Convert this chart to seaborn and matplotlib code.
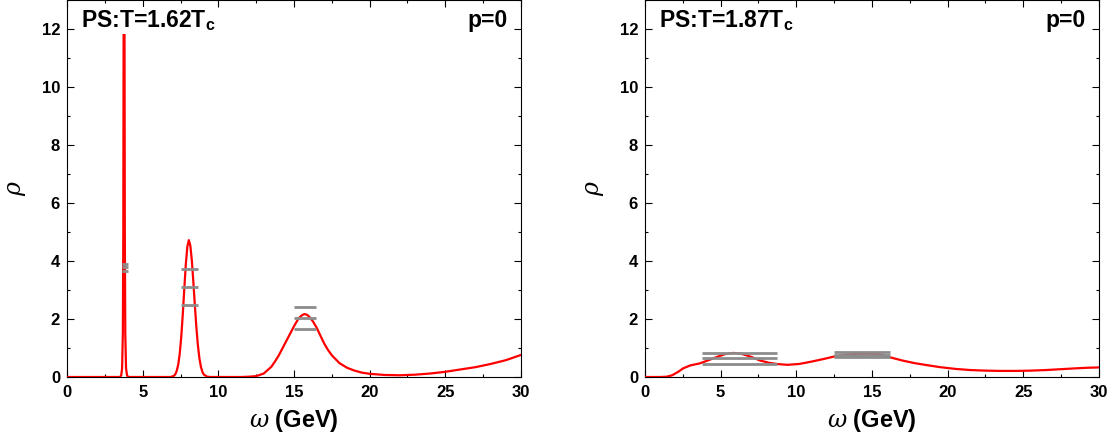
import matplotlib
matplotlib.use("Agg")
import matplotlib.pyplot as plt
import seaborn as sns
import numpy as np
import pandas as pd

# ---------------- data ----------------
left_omega = [0.0, 3.50, 3.58, 3.64, 3.69, 3.72, 3.74, 3.77, 3.80, 3.82, 3.85, 3.90, 3.97, 4.05,
              6.85, 7.05, 7.15, 7.25, 7.35, 7.45, 7.55, 7.65, 7.75, 7.85, 7.95, 8.05,
              8.15, 8.25, 8.35, 8.45, 8.55, 8.65, 8.75, 8.85, 8.95, 9.05, 9.25, 9.45,
              11.5, 12.0, 12.5, 13.0, 13.5, 13.75, 14.0, 14.25, 14.5, 14.75, 15.0, 15.3,
              15.5, 15.68, 15.85, 16.0, 16.25, 16.5, 16.75, 17.0, 17.25,
              17.5, 18.0, 18.5, 19.0, 19.5, 20.0, 21.0, 22.0, 23.0, 24.0, 25.0, 26.0,
              27.0, 28.0, 29.0, 30.0]
left_rho = [0.0, 0.0, 0.05, 0.3, 1.5, 5.0, 12.0, 12.6, 12.0, 5.0, 1.5, 0.3, 0.05, 0.0,
            0.0, 0.036, 0.09, 0.21, 0.43, 0.81, 1.39, 2.16, 3.04, 3.88, 4.49, 4.72,
            4.53, 4.01, 3.27, 2.46, 1.70, 1.09, 0.64, 0.35, 0.17, 0.08, 0.013, 0.0,
            0.0, 0.01, 0.03, 0.12, 0.35, 0.54, 0.75, 1.00, 1.25, 1.50, 1.75, 2.02,
            2.12, 2.17, 2.15, 2.08, 1.92, 1.70, 1.42, 1.15, 0.93,
            0.75, 0.48, 0.32, 0.22, 0.15, 0.11, 0.07, 0.06, 0.08, 0.12, 0.18, 0.26,
            0.34, 0.45, 0.58, 0.76]

right_omega = [0.0, 1.0, 1.43, 1.8, 2.2, 2.53, 3.0, 3.63, 4.2, 4.8, 5.3, 5.84, 6.3, 7.0,
               7.6, 8.2, 8.7, 9.4, 10.2, 11.0, 11.8, 12.45, 13.2, 14.0, 14.87, 15.5,
               16.19, 17.0, 17.8, 18.62, 19.5, 20.5, 21.5, 22.5, 23.46, 24.5, 25.5,
               26.5, 27.5, 28.5, 29.3, 30.0]
right_rho = [0.0, 0.0, 0.01, 0.06, 0.18, 0.30, 0.40, 0.47, 0.58, 0.70, 0.79, 0.83, 0.81, 0.70,
             0.57, 0.49, 0.45, 0.42, 0.45, 0.53, 0.62, 0.70, 0.76, 0.80, 0.81, 0.78,
             0.68, 0.57, 0.48, 0.41, 0.34, 0.28, 0.24, 0.22, 0.21, 0.21, 0.22,
             0.24, 0.27, 0.30, 0.32, 0.33]

# error-bar style horizontal lines: start, end, levels
left_bar_start = [3.63, 7.53, 15.02]
left_bar_end = [4.03, 8.64, 16.43]
left_bar_levels = [[3.90, 3.79, 3.66], [3.72, 3.10, 2.49], [2.40, 2.03, 1.67]]

right_bar_start = [3.75, 12.5]
right_bar_end = [8.7, 16.2]
right_bar_levels = [[0.84, 0.67, 0.46], [0.85, 0.76, 0.68]]

titles = ["PS:T=1.62T", "PS:T=1.87T"]
momentum_label = "p=0"
x_ticks = [0, 5, 10, 15, 20, 25, 30]
y_ticks = [0, 2, 4, 6, 8, 10, 12]

# ---------------- style ----------------
sns.set_theme(style="ticks")
plt.rcParams["font.family"] = ["Liberation Sans", "DejaVu Sans"]
plt.rcParams["text.color"] = "black"
plt.rcParams["axes.labelcolor"] = "black"
plt.rcParams["xtick.color"] = "black"
plt.rcParams["ytick.color"] = "black"
plt.rcParams["mathtext.fontset"] = "custom"
plt.rcParams["mathtext.it"] = "DejaVu Serif:style=italic:weight=normal"
plt.rcParams["mathtext.rm"] = "Liberation Sans:bold"
plt.rcParams["mathtext.bf"] = "Liberation Sans:bold"

fig = plt.figure(figsize=(11.17, 4.46), dpi=100)
ax_l = fig.add_axes([0.06, 0.1547, 0.4064, 0.8453])
ax_r = fig.add_axes([0.5774, 0.1547, 0.4064, 0.8453])

panels = [
    (ax_l, left_omega, left_rho, left_bar_start, left_bar_end, left_bar_levels, titles[0]),
    (ax_r, right_omega, right_rho, right_bar_start, right_bar_end, right_bar_levels, titles[1]),
]

for ax, om, rho, bs, be, bl, title in panels:
    df = pd.DataFrame({"omega": om, "rho": rho})
    sns.lineplot(data=df, x="omega", y="rho", ax=ax, color="red", linewidth=1.6,
                 estimator=None, sort=False, zorder=3)
    for s, e, levels in zip(bs, be, bl):
        ax.hlines(levels, s, e, colors="#8c8c8c", linewidth=2.0, zorder=4)
    ax.set_xlim(0, 30)
    ax.set_ylim(0, 13)
    ax.set_xticks(x_ticks)
    ax.set_yticks(y_ticks)
    ax.set_xticks(np.arange(0, 30.01, 2.5), minor=True)
    ax.set_yticks(np.arange(0, 13.01, 1), minor=True)
    ax.tick_params(which="both", direction="in", top=True, right=True, labelsize=12,
                   color="black", width=0.8)
    ax.tick_params(which="major", length=5)
    ax.tick_params(which="minor", length=2.5)
    ax.tick_params(axis="x", pad=6)
    ax.tick_params(axis="y", pad=5)
    for lab in ax.get_xticklabels() + ax.get_yticklabels():
        lab.set_fontweight("bold")
    for sp in ax.spines.values():
        sp.set_color("black")
        sp.set_linewidth(0.8)
        sp.set_visible(True)
    ax.set_xlabel(r"$\omega$ (GeV)", fontsize=17, fontweight="bold", labelpad=5)
    ax.set_ylabel(r"$\rho$", fontsize=17, fontweight="normal", labelpad=10)
    ax.text(0.031, 0.928, title + r"$_{\mathbf{c}}$", transform=ax.transAxes,
            fontsize=16.5, fontweight="bold", ha="left", va="baseline", zorder=5,
            bbox=dict(facecolor="white", edgecolor="none", pad=1.0))
    ax.text(0.971, 0.928, momentum_label, transform=ax.transAxes,
            fontsize=16.5, fontweight="bold", ha="right", va="baseline", zorder=5)

fig.savefig("out.png", dpi=100)
